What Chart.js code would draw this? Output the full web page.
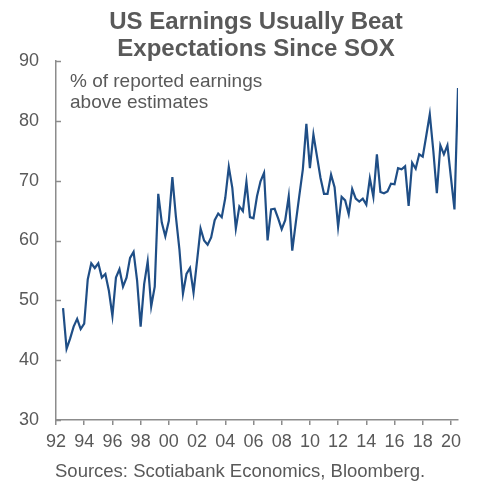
<!DOCTYPE html>
<html>
<head>
<meta charset="utf-8">
<script src="https://cdn.jsdelivr.net/npm/chart.js@4.4.0/dist/chart.umd.min.js"></script>
<style>
  body { margin: 0; background: #fff; }
  #wrap { position: relative; width: 479px; height: 481px; font-family: 'Liberation Sans', Arial, sans-serif; color: #595959; }
  #chart { position: absolute; left: 0; top: 0; }
  .title { position: absolute; left: 56px; width: 400px; top: 7px; text-align: center; font-weight: bold; font-size: 24px; line-height: 27px; }
  .note { position: absolute; left: 70px; top: 70px; font-size: 19px; line-height: 21px; }
  .source { position: absolute; left: 55px; top: 461px; font-size: 18.5px; line-height: 20px; }
</style>
</head>
<body>
<div id="wrap">
  <canvas id="chart" width="479" height="481"></canvas>
  <div class="title">US Earnings Usually Beat<br>Expectations Since SOX</div>
  <div class="note">% of reported earnings<br>above estimates</div>
  <div class="source">Sources: Scotiabank Economics, Bloomberg.</div>
</div>
<script>
// first quarter shown, quarterly series after that
const firstYear = 1992
const firstQuarter = 3

// % of reported earnings above estimates, one value per quarter
const beatShare = [
  48.7, 41.9, 43.6, 45.6, 46.9, 45.2, 46.1, 53.5, 56.2, 55.4,
  56.2, 53.8, 54.4, 51.6, 47.4, 53.8, 55.2, 52.3, 53.8, 57.1,
  58.1, 53.3, 45.6, 52.7, 56.5, 49.0, 52.3, 67.8, 63.0, 60.7,
  63.3, 70.6, 64.0, 58.5, 51.1, 54.4, 55.4, 51.3, 56.6, 62.0,
  60.0, 59.3, 60.5, 63.4, 64.5, 63.9, 67.1, 72.3, 68.8, 62.0,
  65.7, 64.9, 69.8, 63.9, 63.7, 67.4, 69.9, 71.3, 60.0, 65.2,
  65.3, 63.7, 61.9, 63.4, 67.4, 58.3, 63.0, 67.5, 71.9, 79.5,
  72.1, 77.7, 74.1, 70.5, 67.8, 67.8, 71.0, 68.9, 62.3, 67.3,
  66.7, 64.4, 68.6, 67.0, 66.5, 67.0, 66.0, 70.4, 67.3, 74.4,
  68.1, 67.9, 68.2, 69.5, 69.4, 72.1, 71.9, 72.4, 65.8, 73.0,
  72.0, 74.4, 74.0, 77.5, 81.1, 75.0, 67.9, 75.9, 74.4, 75.9,
  70.5, 65.2, 85.5,
]

const yearTicks = ['92', '94', '96', '98', '00', '02', '04', '06', '08', '10', '12', '14', '16', '18', '20']
const yTicks = [30, 40, 50, 60, 70, 80, 90]

const axisColor = '#8c8c8c'
const textColor = '#595959'

const points = beatShare.map((v, i) => {
  const q = firstQuarter - 1 + i
  return { x: firstYear + q / 4, y: v }
})

// y tick marks point into the plot
const innerTicks = {
  id: 'innerTicks',
  afterDraw(chart) {
    const { ctx, chartArea, scales } = chart
    ctx.save()
    ctx.strokeStyle = axisColor
    ctx.lineWidth = 1.5
    yTicks.forEach((t) => {
      const y = Math.round(scales.y.getPixelForValue(t)) + 0.5
      ctx.beginPath()
      ctx.moveTo(chartArea.left, y)
      ctx.lineTo(chartArea.left + 5, y)
      ctx.stroke()
    })
    ctx.restore()
  },
}

new Chart(document.getElementById('chart'), {
  type: 'line',
  data: {
    datasets: [
      {
        data: points,
        borderColor: '#1f4e86',
        borderWidth: 2.2,
        pointRadius: 0,
        tension: 0,
      },
    ],
  },
  options: {
    responsive: false,
    animation: false,
    layout: { padding: { top: 61, right: 21, bottom: 0, left: 0 } },
    plugins: { legend: { display: false }, tooltip: { enabled: false } },
    scales: {
      x: {
        type: 'linear',
        min: 1992,
        max: 2020.5,
        afterFit: (scale) => { scale.height = 61 },
        afterBuildTicks: (scale) => {
          scale.ticks = yearTicks.map((_, i) => ({ value: 1992 + i * 2 }))
        },
        border: { display: true, color: axisColor, width: 1.5 },
        grid: { drawOnChartArea: false, drawTicks: true, tickLength: 5, color: axisColor, lineWidth: 1.5 },
        ticks: {
          autoSkip: false,
          maxRotation: 0,
          padding: 6,
          color: textColor,
          font: { family: "'Liberation Sans', Arial, sans-serif", size: 18 },
          callback: (v) => yearTicks[Math.round((v - 1992) / 2)],
        },
      },
      y: {
        min: 30,
        max: 90,
        afterFit: (scale) => { scale.width = 56 },
        afterBuildTicks: (scale) => {
          scale.ticks = yTicks.map((v) => ({ value: v }))
        },
        border: { display: true, color: axisColor, width: 1.5 },
        grid: { display: false, drawTicks: false },
        ticks: {
          padding: 17,
          color: textColor,
          font: { family: "'Liberation Sans', Arial, sans-serif", size: 18 },
        },
      },
    },
  },
  plugins: [innerTicks],
})
</script>
</body>
</html>
